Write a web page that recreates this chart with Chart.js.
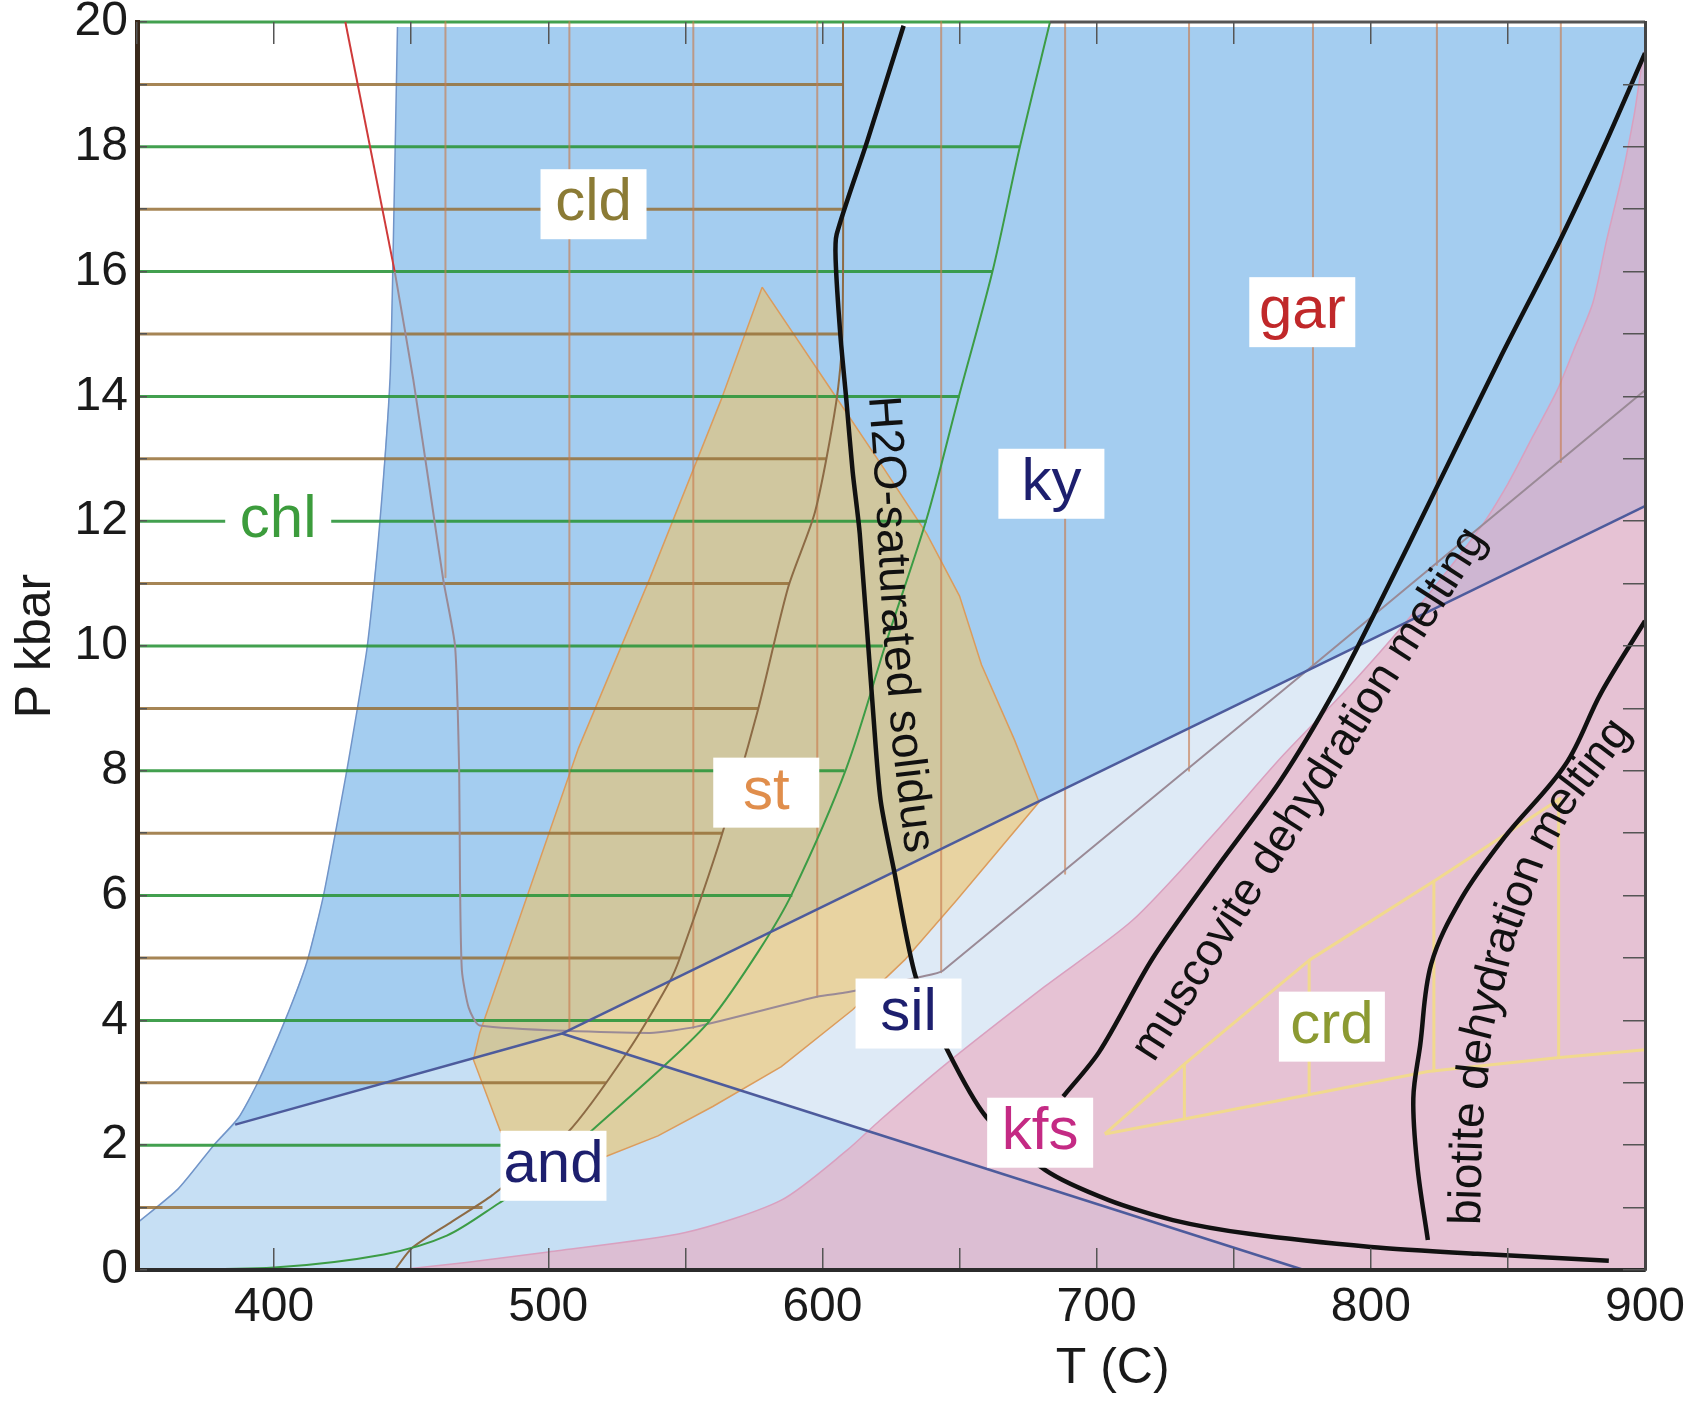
<!DOCTYPE html>
<html>
<head>
<meta charset="utf-8">
<script src="https://cdn.jsdelivr.net/npm/chart.js@4.4.1/dist/chart.umd.min.js"></script>
<style>
  html, body { margin: 0; padding: 0; background: #fff; }
  #wrap { width: 1697px; height: 1406px; position: relative; }
</style>
</head>
<body>
<div id="wrap"><canvas id="pt"></canvas></div>
<script>
// ---- phase field outlines, [T (C), P (kbar)] ----
const blueEdge = [[350,0.75],[365,1.3],[378,2.0],[387,2.44],[394,3.0],[404,4.0],[412,4.94],[418,6.0],[426.5,8.0],[430,8.9],[434,10],[438.6,12],[442.3,14.3],[443.5,16.5],[445,19.92]];
const kyCorners = [[900,19.92],[900,0],[350,0]];
const andField = [[350,0],[350,0.75],[365,1.3],[378,2.0],[385.8,2.33],[505,3.79],[775.6,0]];
const silField = [[505,3.79],[900,12.24],[900,0],[775.6,0]];
const meltEdge = [[445,0],[470,0.12],[500,0.29],[550,0.6],[585,1.12],[609,1.92],[621,2.4],[645,3.3],[681,4.54],[713,5.6],[743,7.0],[767,8.2],[791,9.3],[814,10.45],[840,11.9],[850,12.6],[859,13.35],[868,14.1],[874,14.74],[881,15.5],[886,16.5],[892,17.6],[896,18.5],[900,19.5]];
const meltCorners = [[900,0]];
const stField = [[578,15.75],[563,13.94],[537,11.08],[511,8.36],[475,3.8],[472.7,3.37],[482.4,2.24],[488,1.8],[505,1.7],[521,1.82],[540,2.15],[560,2.62],[585,3.26],[611,4.17],[630,4.97],[649,5.93],[679,7.5],[670,8.5],[658,9.7],[650,10.8],[638,11.8],[622,12.87],[604,14.05]];

// ---- reaction lines ----
const andKy = [[385.8,2.33],[505,3.79]];
const kySil = [[505,3.79],[900,12.24]];
const andSil = [[505,3.79],[775.6,0]];
const garRed = [[426,20],[444,16.0]];
const garLine = [[444,16.0],[450.8,14.26],[457.5,12.3],[461.7,11.06],[466,10],[467.5,8],[467.8,6.25],[468.5,4.8],[471,4.2],[475,3.92],[537,3.8],[554,3.9],[598,4.38],[609,4.45],[636,4.7],[644,4.8],[900,14.1]];
const cldLine = [[444,0],[450.5,0.36],[465,0.78],[479.6,1.2],[507,2.2],[528.5,3.47],[544,4.6],[548,5.0],[563,6.93],[576.2,8.93],[587.5,10.94],[597.3,12.15],[605,13.9],[607.3,15],[607.5,20]];
const chlLine = [[350,0],[400,0.04],[440,0.25],[463,0.55],[482,1.07],[500,1.6],[516,2.24],[542,3.26],[559,4.0],[577,5.13],[589,6.04],[608.7,8.04],[623.4,10.08],[638,12.04],[649.4,13.94],[662,16],[672,18],[683,20]];
const solidus = [[629.6,19.94],[616.4,18.1],[605.2,16.6],[604.8,16.2],[606.5,15],[608.7,13.95],[611,12.8],[613.6,11.8],[618.5,8.93],[621.2,7.53],[626.3,6.36],[634,4.7],[645.5,3.53],[659.6,2.46],[681.3,1.6],[704.4,1.12],[727.8,0.8],[755.6,0.58],[800,0.37],[838.9,0.26],[886.8,0.15]];
const muscovite = [[687.8,2.78],[701,3.5],[720.5,5.0],[743,6.4],[767,7.84],[787,9.3],[804.5,10.8],[823,12.45],[847,14.6],[869,16.5],[885,18.0],[900,19.5]];
const biotite = [[820.8,0.48],[817,1.66],[815.5,2.75],[818,3.6],[822,4.9],[833,5.95],[848.5,6.92],[871,8.1],[884,9.25],[900,10.4]];
const crdUpper = [[703,2.18],[732,3.3],[777.7,4.97],[824.4,6.27],[869.5,7.57]];
const crdLower = [[703,2.18],[732,2.42],[776.4,2.8],[820.8,3.18],[868,3.4],[900,3.53]];
const topEdge = [[683,20],[900,20]];

// ---- hatching ----
const chlHatch = [[2,511],[4,559],[6,589],[8,608],[10,622],[12,638],[14,650],[16,662],[18,672],[20,683]]; // [P, T end]
const cldHatch = [[1,476],[3,521],[5,548],[7,563.5],[9,576.5],[11,588],[13,601.5],[15,607.3],[17,607.5],[19,607.5]];
const garHatch = [[462.5,11.1],[507.7,3.85],[552.9,3.88],[598.1,4.38],[643.3,4.77],[688.5,6.35],[733.7,8.0],[778.9,9.65],[824.1,11.3],[869.3,12.95]]; // [T, P end]
const crdHatch = [[732,2.42,3.3],[777.5,2.8,4.97],[823,3.17,6.25],[868.5,3.4,7.57]]; // [T, P low, P high]

// ---- labels ----
const regionLabels = [
  ['cld', 516.5, 17.08, '#8b7b35'],
  ['chl', 401.5, 12.0, '#3c9c3c'],
  ['gar', 775, 15.35, '#c0282a'],
  ['ky', 683.5, 12.6, '#1d1f6e'],
  ['st', 579.5, 7.65, '#e08e4c'],
  ['sil', 631.4, 4.11, '#1d1f6e'],
  ['and', 501.9, 1.67, '#1d1f6e'],
  ['kfs', 679.4, 2.2, '#c42a84'],
  ['crd', 785.8, 3.9, '#8c9a32']
];
const lineLabels = [
  ['H2O-saturated solidus', [[621,14.4],[624,12.5],[626.5,10.4],[630,8.5],[636,6.3]]],
  ['muscovite dehydration melting', [[718,3.5],[837.4,11.75]]],
  ['biotite dehydration melting', [[835,0.4],[836,2.3],[840,3.9],[848,5.3],[858,6.5],[870,7.5],[884,8.3],[896,9.0]]]
];

const FONT = "'Liberation Sans', Arial, Helvetica, sans-serif";
const GREEN = 'rgba(45,150,60,0.9)';
const BROWN = 'rgba(150,112,55,0.85)';

const xy = arr => arr.map(([t, p]) => ({ x: t, y: p }));
const layers = [];
function addArea(poly, fillColor, edgeColor, edgeWidth, tension) {
  layers.push({ data: xy(poly.concat([poly[0]])), showLine: true, fill: 'shape',
    backgroundColor: fillColor, borderColor: edgeColor || 'rgba(0,0,0,0)', borderWidth: edgeWidth || 1,
    pointRadius: 0, tension: tension || 0 });
}
function addLine(pts, color, width, tension) {
  layers.push({ data: xy(pts), showLine: true, fill: false, borderColor: color, borderWidth: width,
    pointRadius: 0, tension: tension || 0, clip: 8, borderJoinStyle: 'round' });
}

// bottom to top
addArea(blueEdge.concat(kyCorners), '#a4cdf0');
addArea(andField, '#c6dff4');
addArea(silField, '#deeaf6');
addArea(meltEdge.concat(meltCorners), 'rgba(236,166,187,0.58)', '#d9a0bf', 1.5, 0.25);
addArea(stField, 'rgba(240,195,100,0.58)', '#dc9c5c', 1.5);
addLine(blueEdge, '#7194c8', 1.5, 0.2);
chlHatch.forEach(([p, t]) => addLine([[350, p], [t, p]], GREEN, 3));
cldHatch.forEach(([p, t]) => addLine([[350, p], [t, p]], BROWN, 3));
garHatch.forEach(([t, p]) => addLine([[t, 20], [t, p]], 'rgba(200,125,80,0.65)', 2));
crdHatch.forEach(([t, p0, p1]) => addLine([[t, p0], [t, p1]], '#f1d98e', 3));
addLine(crdUpper, '#f1d98e', 3);
addLine(crdLower, '#f1d98e', 3);
addLine(garLine, '#9a8a96', 2, 0.2);
addLine(garRed, '#cf3a3a', 2);
addLine(cldLine, '#8d6b45', 2, 0.25);
addLine(chlLine, '#3c9c45', 2, 0.3);
addLine(andKy, '#4d5b9c', 2.5);
addLine(kySil, '#4d5b9c', 2.5);
addLine(andSil, '#4d5b9c', 2.5);
addLine(topEdge, '#555', 3);
addLine(solidus, '#111', 4.5, 0.25);
addLine(muscovite, '#111', 4.5, 0.3);
addLine(biotite, '#111', 4.5, 0.35);
layers.forEach((d, i) => { d.order = layers.length - i; });

function pathText(ctx, xs, ys, text, path, size, color) {
  const px = path.map(([t, p]) => [xs.getPixelForValue(t), ys.getPixelForValue(p)]);
  const seg = [];
  let total = 0;
  for (let i = 1; i < px.length; i++) {
    const d = Math.hypot(px[i][0] - px[i - 1][0], px[i][1] - px[i - 1][1]);
    seg.push(d); total += d;
  }
  ctx.font = size + 'px ' + FONT;
  let s = (total - ctx.measureText(text).width) / 2;
  ctx.fillStyle = color; ctx.textAlign = 'center'; ctx.textBaseline = 'middle';
  for (const ch of text) {
    const cw = ctx.measureText(ch).width;
    const mid = s + cw / 2;
    let i = 0, acc = 0;
    while (i < seg.length - 1 && acc + seg[i] < mid) { acc += seg[i]; i++; }
    const f = (mid - acc) / seg[i];
    const x = px[i][0] + (px[i + 1][0] - px[i][0]) * f;
    const y = px[i][1] + (px[i + 1][1] - px[i][1]) * f;
    ctx.save();
    ctx.translate(x, y);
    ctx.rotate(Math.atan2(px[i + 1][1] - px[i][1], px[i + 1][0] - px[i][0]));
    ctx.fillText(ch, 0, 0);
    ctx.restore();
    s += cw;
  }
}

const annotations = {
  id: 'annotations',
  afterDatasetsDraw(chart) {
    const { ctx, chartArea, scales: { x, y } } = chart;
    ctx.save();
    lineLabels.forEach(([txt, path]) => pathText(ctx, x, y, txt, path, 46, '#111'));
    regionLabels.forEach(([txt, t, p, col]) => {
      const cx = x.getPixelForValue(t), cy = y.getPixelForValue(p);
      ctx.fillStyle = '#fff';
      ctx.fillRect(cx - 53, cy - 35, 106, 70);
      ctx.font = '60px ' + FONT;
      ctx.fillStyle = col;
      ctx.textAlign = 'center';
      ctx.textBaseline = 'alphabetic';
      ctx.fillText(txt, cx, cy + 16);
    });
    // axis titles
    ctx.fillStyle = '#1a1a1a';
    ctx.font = '50px ' + FONT;
    ctx.textAlign = 'center';
    ctx.textBaseline = 'middle';
    ctx.fillText('T (C)', chartArea.left + chartArea.width * 0.647, chartArea.bottom + 99);
    ctx.save();
    ctx.translate(36, (chartArea.top + chartArea.bottom) / 2);
    ctx.rotate(-Math.PI / 2);
    ctx.fillText('P kbar', 0, 0);
    ctx.restore();
    ctx.restore();
  }
};

const tickFont = { family: FONT, size: 48, lineHeight: 0.9 };
const innerGrid = len => ({ display: true, drawOnChartArea: false, drawTicks: true, tickLength: -len, color: '#555', lineWidth: 1.5, z: 1 });
// keep the plot box where the layout padding puts it
const noPad = s => { s.paddingTop = 0; s.paddingBottom = 0; s.paddingLeft = 0; s.paddingRight = 0; };

new Chart(document.getElementById('pt'), {
  type: 'scatter',
  data: { datasets: layers },
  options: {
    responsive: true,
    maintainAspectRatio: false,
    devicePixelRatio: 1,
    animation: false,
    events: [],
    layout: { padding: { top: 22, right: 52, left: 0, bottom: 0 } },
    plugins: { legend: { display: false }, tooltip: { enabled: false } },
    scales: {
      x: {
        type: 'linear', position: 'bottom', min: 350, max: 900,
        ticks: { stepSize: 50, autoSkip: false, maxRotation: 0, padding: 38, color: '#1a1a1a', font: tickFont,
          callback: v => (v % 100 === 0 ? String(v) : '') },
        grid: innerGrid(22),
        border: { display: true, color: '#2b2b2b', width: 4, z: 1 },
        afterFit: s => { s.height = 136; noPad(s); }
      },
      y: {
        type: 'linear', position: 'left', min: 0, max: 20,
        ticks: { stepSize: 1, padding: 19, color: '#1a1a1a', font: tickFont,
          callback: v => (v % 2 === 0 ? String(v) : '') },
        grid: innerGrid(10),
        border: { display: true, color: '#3a2a1c', width: 5, z: 1 },
        afterFit: s => { s.width = 137; noPad(s); }
      },
      x2: {
        type: 'linear', axis: 'x', position: 'top', min: 350, max: 900,
        ticks: { stepSize: 50, callback: () => '' },
        grid: innerGrid(22),
        border: { display: false },
        afterFit: s => { s.height = 0; noPad(s); }
      },
      y2: {
        type: 'linear', axis: 'y', position: 'right', min: 0, max: 20,
        ticks: { stepSize: 1, callback: () => '' },
        grid: innerGrid(22),
        border: { display: true, color: '#444', width: 3, z: 1 },
        afterFit: s => { s.width = 0; noPad(s); }
      }
    }
  },
  plugins: [annotations]
});
</script>
</body>
</html>
